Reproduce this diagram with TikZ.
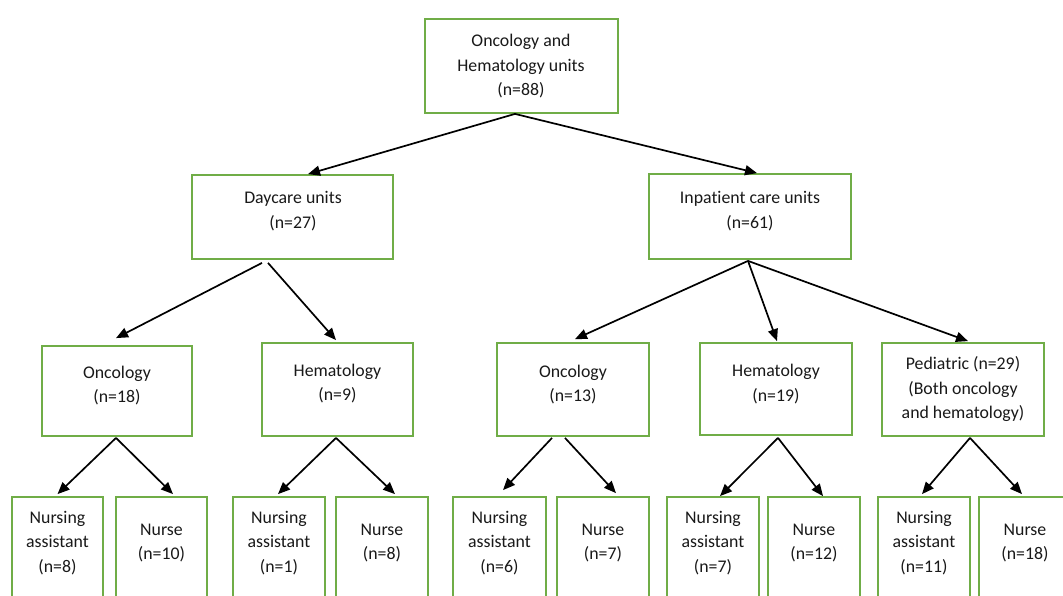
\documentclass[tikz,border=0pt]{standalone}
\usepackage{fontspec}
\setmainfont{Carlito}[Ligatures=CommonOff]
\usetikzlibrary{arrows.meta}
\definecolor{boxgreen}{RGB}{112, 173, 71}
\definecolor{ink}{RGB}{25, 25, 25}

\begin{document}
\begin{tikzpicture}[
  unit/.style={draw=boxgreen, line width=1.8pt, fill=white, inner sep=0pt},
  txt/.style={align=center, inner sep=0pt, text=ink, font=\fontsize{17.8}{24.5}\selectfont},
  link/.style={line width=1.7pt, -{Triangle[length=12pt, width=10pt]}}]
\useasboundingbox (0pt, 0pt) rectangle (1063pt, -595pt);
\clip (0pt, 0pt) rectangle (1063pt, -595pt);
% boxes
\node (all) [unit, minimum width=193pt, minimum height=94pt] at (521.5pt, -66pt) {};
\node (day) [unit, minimum width=201pt, minimum height=84pt] at (292.5pt, -217pt) {};
\node (inp) [unit, minimum width=202pt, minimum height=85pt] at (750pt, -216.5pt) {};
\node (dayonc) [unit, minimum width=150pt, minimum height=90pt] at (117pt, -391pt) {};
\node (dayhem) [unit, minimum width=151pt, minimum height=93pt] at (337.5pt, -389.5pt) {};
\node (inponc) [unit, minimum width=152pt, minimum height=93pt] at (573pt, -389.5pt) {};
\node (inphem) [unit, minimum width=152pt, minimum height=92pt] at (776pt, -389pt) {};
\node (ped) [unit, minimum width=162pt, minimum height=93pt] at (963pt, -389.5pt) {};
\node (na1) [unit, minimum width=91pt, minimum height=113pt] at (57.5pt, -553.5pt) {};
\node (nu1) [unit, minimum width=91pt, minimum height=113pt] at (161.5pt, -553.5pt) {};
\node (na2) [unit, minimum width=92pt, minimum height=113pt] at (279pt, -553.5pt) {};
\node (nu2) [unit, minimum width=92pt, minimum height=113pt] at (382pt, -553.5pt) {};
\node (na3) [unit, minimum width=93pt, minimum height=113pt] at (499.5pt, -553.5pt) {};
\node (nu3) [unit, minimum width=92pt, minimum height=113pt] at (603pt, -553.5pt) {};
\node (na4) [unit, minimum width=92pt, minimum height=113pt] at (713pt, -553.5pt) {};
\node (nu4) [unit, minimum width=92pt, minimum height=113pt] at (814pt, -553.5pt) {};
\node (na5) [unit, minimum width=92pt, minimum height=113pt] at (924pt, -553.5pt) {};
\node (nu5) [unit, minimum width=96pt, minimum height=113pt] at (1027pt, -553.5pt) {};
% texts
\node (all-t) [txt] at (521pt, -66.5pt) {Oncology and\\Hematology units\\(n=88)};
\node (day-t) [txt] at (293pt, -211pt) {Daycare units\\(n=27)};
\node (inp-t) [txt] at (750pt, -211pt) {Inpatient care units\\(n=61)};
\node (dayonc-t) [txt] at (117pt, -385.5pt) {Oncology\\(n=18)};
\node (dayhem-t) [txt] at (337.5pt, -383.5pt) {Hematology\\(n=9)};
\node (inponc-t) [txt] at (573pt, -384.5pt) {Oncology\\(n=13)};
\node (inphem-t) [txt] at (776pt, -384pt) {Hematology\\(n=19)};
\node (ped-t) [txt] at (963pt, -389.5pt) {Pediatric (n=29)\\(Both oncology\\and hematology)};
\node (na1-t) [txt] at (57.5pt, -543pt) {Nursing\\assistant\\(n=8)};
\node (nu1-t) [txt] at (161.5pt, -543pt) {Nurse\\(n=10)};
\node (na2-t) [txt] at (279pt, -543pt) {Nursing\\assistant\\(n=1)};
\node (nu2-t) [txt] at (382pt, -543pt) {Nurse\\(n=8)};
\node (na3-t) [txt] at (499.5pt, -543pt) {Nursing\\assistant\\(n=6)};
\node (nu3-t) [txt] at (603pt, -543pt) {Nurse\\(n=7)};
\node (na4-t) [txt] at (713pt, -543pt) {Nursing\\assistant\\(n=7)};
\node (nu4-t) [txt] at (814pt, -543pt) {Nurse\\(n=12)};
\node (na5-t) [txt] at (924pt, -543pt) {Nursing\\assistant\\(n=11)};
\node (nu5-t) [txt] at (1025pt, -543pt) {Nurse\\(n=18)};
% arrows
\draw [link] ([xshift=-6.5pt]all.south) -- ([xshift=15.5pt]day.north);
\draw [link] ([xshift=-6.5pt]all.south) -- ([xshift=7pt]inp.north);
\draw [link] ([xshift=-30.5pt, yshift=-3pt]day.south) -- ([xshift=-1pt, yshift=7pt]dayonc.north);
\draw [link] ([xshift=-24.5pt, yshift=-3pt]day.south) -- ([xshift=-1.5pt, yshift=2pt]dayhem.north);
\draw [link] ([xshift=-2pt, yshift=-1pt]inp.south) -- ([xshift=2pt, yshift=3pt]inponc.north);
\draw [link] ([xshift=-2pt, yshift=-1pt]inp.south) -- ([xshift=1pt, yshift=1pt]inphem.north);
\draw [link] ([xshift=-2pt, yshift=-1pt]inp.south) -- ([xshift=5pt, yshift=1pt]ped.north);
\draw [link] ([xshift=-1pt, yshift=-1pt]dayonc.south) -- ([yshift=2pt]na1.north);
\draw [link] ([xshift=-1pt, yshift=-1pt]dayonc.south) -- ([xshift=11.5pt, yshift=2pt]nu1.north);
\draw [link] ([xshift=-1.5pt, yshift=-1pt]dayhem.south) -- ([xshift=-1pt, yshift=2pt]na2.north);
\draw [link] ([xshift=-1.5pt, yshift=-1pt]dayhem.south) -- ([xshift=13pt, yshift=2pt]nu2.north);
\draw [link] ([xshift=-21pt, yshift=-1pt]inponc.south) -- ([xshift=3.5pt, yshift=6pt]na3.north);
\draw [link] ([xshift=-8pt, yshift=-1pt]inponc.south) -- ([xshift=13pt, yshift=3pt]nu3.north);
\draw [link] ([xshift=2pt, yshift=-2pt]inphem.south) -- ([xshift=7pt]na4.north);
\draw [link] ([xshift=2pt, yshift=-2pt]inphem.south) -- ([xshift=9pt]nu4.north);
\draw [link] ([xshift=7pt, yshift=-1pt]ped.south) -- ([xshift=-2pt, yshift=2pt]na5.north);
\draw [link] ([xshift=7pt, yshift=-1pt]ped.south) -- ([xshift=-5pt, yshift=2pt]nu5.north);
\end{tikzpicture}
\end{document}
